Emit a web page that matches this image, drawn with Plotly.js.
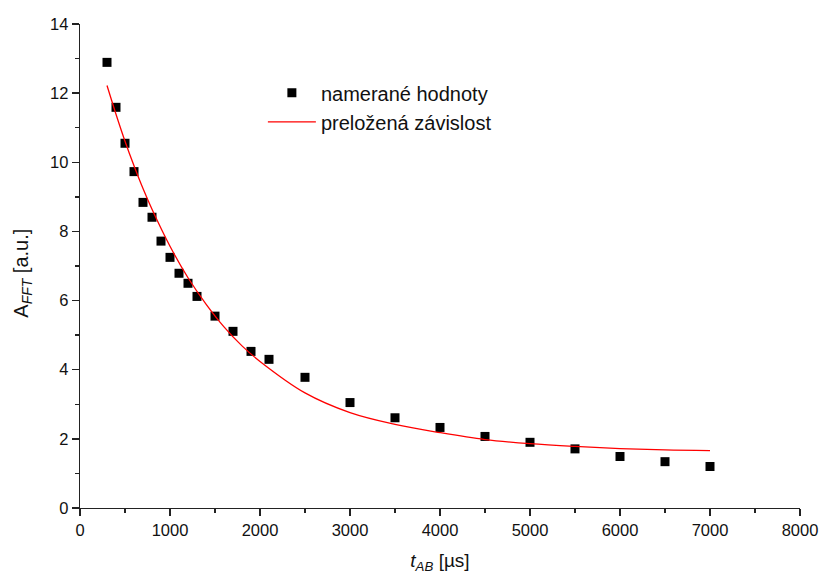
<!DOCTYPE html>
<html>
<head>
<meta charset="utf-8">
<script src="https://cdn.plot.ly/plotly-3.0.1.min.js"></script>
<style>html,body{margin:0;padding:0;background:#fff;}#chart{width:824px;height:577px;}</style>
</head>
<body>
<div id="chart"></div>
<script>
// Measured points
const measX = [300, 400, 500, 600, 700, 800, 900, 1000, 1100, 1200, 1300, 1500, 1700, 1900, 2100, 2500, 3000, 3500, 4000, 4500, 5000, 5500, 6000, 6500, 7000];
const measY = [12.89, 11.59, 10.55, 9.73, 8.84, 8.41, 7.72, 7.25, 6.79, 6.50, 6.12, 5.55, 5.11, 4.53, 4.30, 3.78, 3.05, 2.61, 2.33, 2.07, 1.90, 1.71, 1.49, 1.34, 1.20];
// Fitted curve
const fitX = [300, 400, 500, 600, 700, 800, 1000, 1200, 1400, 1600, 1800, 2000, 2500, 3000, 3500, 4000, 4500, 5000, 5500, 6000, 6500, 7000];
const fitY = [12.22, 11.39, 10.61, 9.90, 9.24, 8.64, 7.57, 6.66, 5.90, 5.24, 4.69, 4.24, 3.33, 2.76, 2.42, 2.18, 1.98, 1.86, 1.78, 1.72, 1.68, 1.66];

const seriesNames = ['namerané hodnoty', 'preložená závislost'];
const xTitle = '<i>t</i><sub><i>AB</i></sub> [µs]';
const yTitle = 'A<sub><i>FFT</i></sub> [a.u.]';

const traces = [
  {
    x: measX, y: measY, name: seriesNames[0], type: 'scatter', mode: 'markers',
    marker: {symbol: 'square', size: 9, color: '#000000'}
  },
  {
    x: fitX, y: fitY, name: seriesNames[1], type: 'scatter', mode: 'lines',
    line: {color: '#ff0000', width: 1.3, shape: 'spline', smoothing: 1}
  }
];

const fontFam = '"Liberation Sans", Arial, sans-serif';
const layout = {
  width: 824, height: 577,
  paper_bgcolor: '#ffffff', plot_bgcolor: '#ffffff',
  margin: {l: 80, r: 24, t: 24, b: 69},
  font: {family: fontFam, color: '#111111', size: 16},
  showlegend: true,
  legend: {
    x: 0.254, y: 0.898, xanchor: 'left', yanchor: 'top',
    bgcolor: 'rgba(0,0,0,0)', borderwidth: 0, itemwidth: 48,
    font: {family: fontFam, size: 20, color: '#111111'}
  },
  xaxis: {
    range: [0, 8000], dtick: 1000, tick0: 0,
    showgrid: false, zeroline: false,
    showline: true, linecolor: '#222222', linewidth: 1.3,
    ticks: 'outside', ticklen: 7, tickwidth: 1.3, tickcolor: '#222222',
    minor: {dtick: 500, ticks: 'outside', ticklen: 4, tickwidth: 1.3, tickcolor: '#222222', showgrid: false},
    tickfont: {family: fontFam, size: 16.5, color: '#111111'},
    title: {text: xTitle, font: {family: fontFam, size: 19, color: '#111111'}, standoff: 15}
  },
  yaxis: {
    range: [0, 14], dtick: 2, tick0: 0,
    showgrid: false, zeroline: false,
    showline: true, linecolor: '#222222', linewidth: 1.3,
    ticks: 'outside', ticklen: 7, tickwidth: 1.3, tickcolor: '#222222',
    minor: {dtick: 1, ticks: 'outside', ticklen: 4, tickwidth: 1.3, tickcolor: '#222222', showgrid: false},
    tickfont: {family: fontFam, size: 16.5, color: '#111111'}
  },
  annotations: [
    {
      text: yTitle, xref: 'paper', yref: 'paper', x: -0.081, y: 0.4855,
      xanchor: 'center', yanchor: 'middle', textangle: -90, showarrow: false,
      font: {family: fontFam, size: 20, color: '#111111'}
    }
  ]
};

Plotly.newPlot('chart', traces, layout, {displayModeBar: false, staticPlot: true});
</script>
</body>
</html>
